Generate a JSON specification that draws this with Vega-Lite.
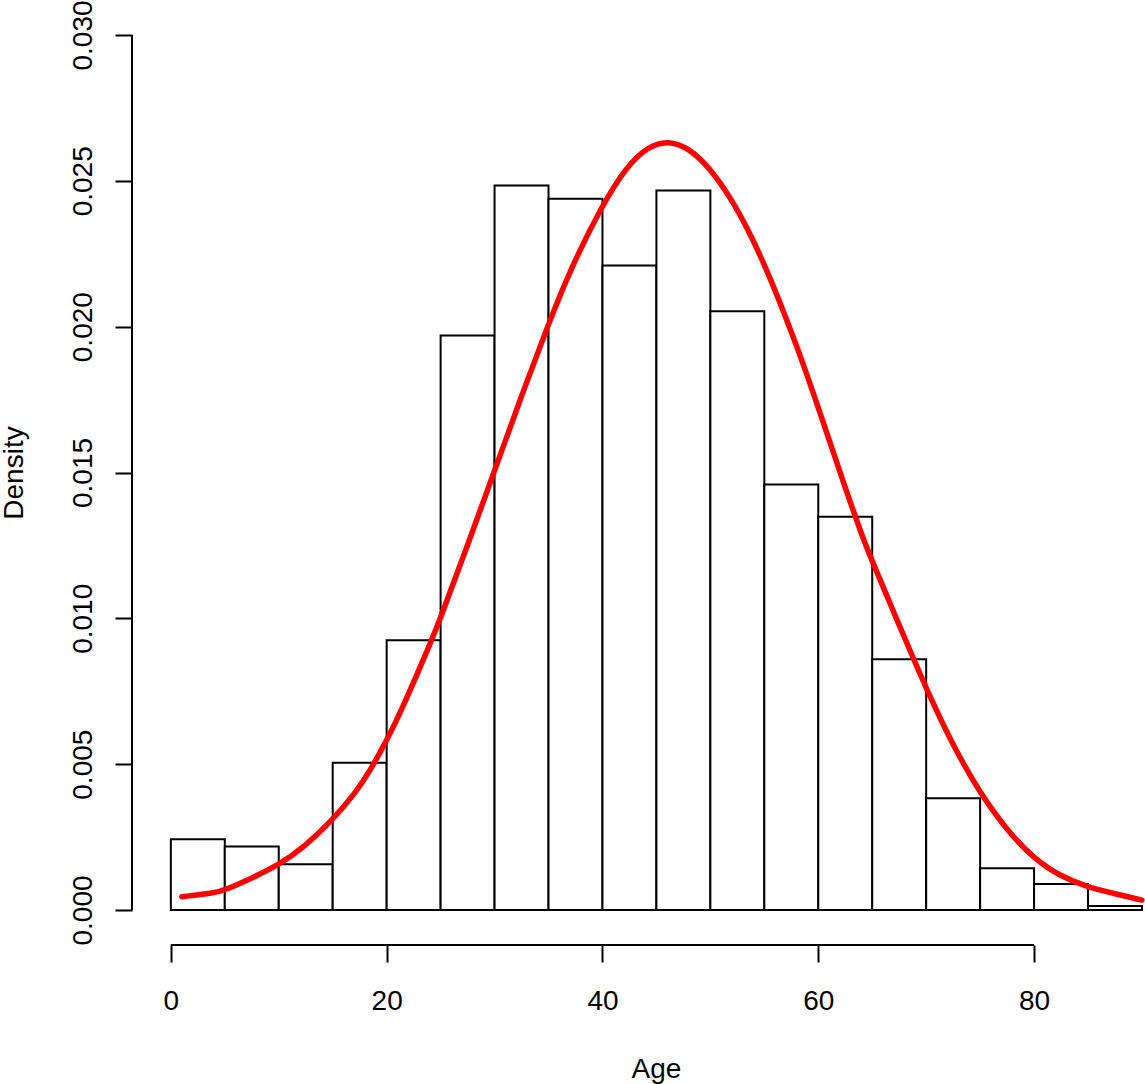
{
  "$schema": "https://vega.github.io/schema/vega-lite/v6.json",
  "width": 1013,
  "height": 945,
  "autosize": {"type": "none"},
  "padding": {"left": 132, "top": 0, "right": 0, "bottom": 139},
  "background": "white",
  "config": {"view": {"stroke": null}, "font": "Liberation Sans"},
  "datasets": {
    "hist": [
      {"bin_start": 0, "bin_end": 5, "density": 0.00243},
      {"bin_start": 5, "bin_end": 10, "density": 0.00218},
      {"bin_start": 10, "bin_end": 15, "density": 0.00157},
      {"bin_start": 15, "bin_end": 20, "density": 0.00505},
      {"bin_start": 20, "bin_end": 25, "density": 0.00925},
      {"bin_start": 25, "bin_end": 30, "density": 0.0197},
      {"bin_start": 30, "bin_end": 35, "density": 0.02484},
      {"bin_start": 35, "bin_end": 40, "density": 0.02439},
      {"bin_start": 40, "bin_end": 45, "density": 0.0221},
      {"bin_start": 45, "bin_end": 50, "density": 0.02467},
      {"bin_start": 50, "bin_end": 55, "density": 0.02053},
      {"bin_start": 55, "bin_end": 60, "density": 0.01459},
      {"bin_start": 60, "bin_end": 65, "density": 0.01348},
      {"bin_start": 65, "bin_end": 70, "density": 0.0086},
      {"bin_start": 70, "bin_end": 75, "density": 0.00383},
      {"bin_start": 75, "bin_end": 80, "density": 0.00143},
      {"bin_start": 80, "bin_end": 85, "density": 0.00089},
      {"bin_start": 85, "bin_end": 90, "density": 0.00014}
    ],
    "dens": [
      {"age": 1.02, "density": 0.000456},
      {"age": 3.95, "density": 0.000572},
      {"age": 5.03, "density": 0.000685},
      {"age": 7.66, "density": 0.00112},
      {"age": 9.97, "density": 0.00154},
      {"age": 12.29, "density": 0.00214},
      {"age": 14.92, "density": 0.00305},
      {"age": 17.24, "density": 0.00408},
      {"age": 18.47, "density": 0.00478},
      {"age": 20.02, "density": 0.00582},
      {"age": 21.56, "density": 0.00700},
      {"age": 24.03, "density": 0.00912},
      {"age": 24.96, "density": 0.00998},
      {"age": 27.43, "density": 0.01243},
      {"age": 29.9, "density": 0.01496},
      {"age": 32.37, "density": 0.01750},
      {"age": 35.0, "density": 0.0201},
      {"age": 37.01, "density": 0.02195},
      {"age": 39.94, "density": 0.02415},
      {"age": 42.26, "density": 0.02550},
      {"age": 44.12, "density": 0.02615},
      {"age": 46.04, "density": 0.02640},
      {"age": 48.13, "density": 0.02610},
      {"age": 49.98, "density": 0.02542},
      {"age": 51.84, "density": 0.02444},
      {"age": 53.38, "density": 0.02342},
      {"age": 55.24, "density": 0.02195},
      {"age": 56.78, "density": 0.02052},
      {"age": 58.63, "density": 0.01872},
      {"age": 60.48, "density": 0.01670},
      {"age": 62.34, "density": 0.01465},
      {"age": 64.19, "density": 0.01268},
      {"age": 65.27, "density": 0.01173},
      {"age": 66.36, "density": 0.01077},
      {"age": 67.28, "density": 0.00996},
      {"age": 68.36, "density": 0.00902},
      {"age": 70.07, "density": 0.00754},
      {"age": 72.53, "density": 0.0056},
      {"age": 75.01, "density": 0.00400},
      {"age": 77.48, "density": 0.00274},
      {"age": 79.94, "density": 0.00177},
      {"age": 82.42, "density": 0.00116},
      {"age": 84.89, "density": 0.00080},
      {"age": 87.36, "density": 0.00057},
      {"age": 89.99, "density": 0.00034}
    ]
  },
  "layer": [
    {
      "data": {"name": "hist"},
      "mark": {"type": "rect", "fill": "white", "stroke": "black", "strokeWidth": 2},
      "encoding": {
        "x": {
          "field": "bin_start",
          "type": "quantitative",
          "scale": {"domain": [-3.6, 90.28], "nice": false, "zero": false},
          "axis": {
            "title": "Age",
            "values": [0, 20, 40, 60, 80],
            "domain": false,
            "grid": false,
            "tickSize": 17,
            "tickWidth": 2,
            "tickColor": "black",
            "labelFontSize": 28,
            "labelColor": "black",
            "labelBaseline": "top",
            "labelPadding": 25,
            "labelFlush": false,
            "labelOverlap": false,
            "titleFontSize": 28,
            "titleFontWeight": "normal",
            "titleColor": "black",
            "titleX": 524,
            "titleY": 132,
            "titleAlign": "center",
            "titleBaseline": "alphabetic"
          }
        },
        "x2": {"field": "bin_end"},
        "y": {
          "field": "density",
          "type": "quantitative",
          "scale": {"domain": [-0.0012, 0.0312], "nice": false, "zero": false},
          "axis": {
            "title": "Density",
            "values": [0, 0.005, 0.01, 0.015, 0.02, 0.025, 0.03],
            "format": ".3f",
            "domain": false,
            "grid": false,
            "tickSize": 17,
            "tickWidth": 2,
            "tickColor": "black",
            "labelFontSize": 28,
            "labelColor": "black",
            "labelAngle": 270,
            "labelAlign": "center",
            "labelBaseline": "alphabetic",
            "labelPadding": 24,
            "labelFlush": false,
            "labelOverlap": false,
            "titleFontSize": 28,
            "titleFontWeight": "normal",
            "titleColor": "black",
            "titleAngle": 270,
            "titleX": -110,
            "titleY": 472.5,
            "titleAlign": "center",
            "titleBaseline": "alphabetic"
          }
        },
        "y2": {"datum": 0}
      }
    },
    {
      "data": {"name": "dens"},
      "mark": {"type": "line", "color": "#FF0000", "strokeWidth": 5.5, "strokeCap": "round", "strokeJoin": "round", "interpolate": "basis"},
      "encoding": {
        "x": {"field": "age", "type": "quantitative"},
        "y": {"field": "density", "type": "quantitative"}
      }
    },
    {
      "data": {"values": [{}]},
      "mark": {"type": "rule", "color": "black", "strokeWidth": 2},
      "encoding": {
        "x": {"datum": -3.6, "type": "quantitative"},
        "y": {"datum": 0, "type": "quantitative"},
        "y2": {"datum": 0.03}
      }
    },
    {
      "data": {"values": [{}]},
      "mark": {"type": "rule", "color": "black", "strokeWidth": 2},
      "encoding": {
        "x": {"datum": 0, "type": "quantitative"},
        "x2": {"datum": 80},
        "y": {"datum": -0.0012, "type": "quantitative"}
      }
    }
  ]
}
